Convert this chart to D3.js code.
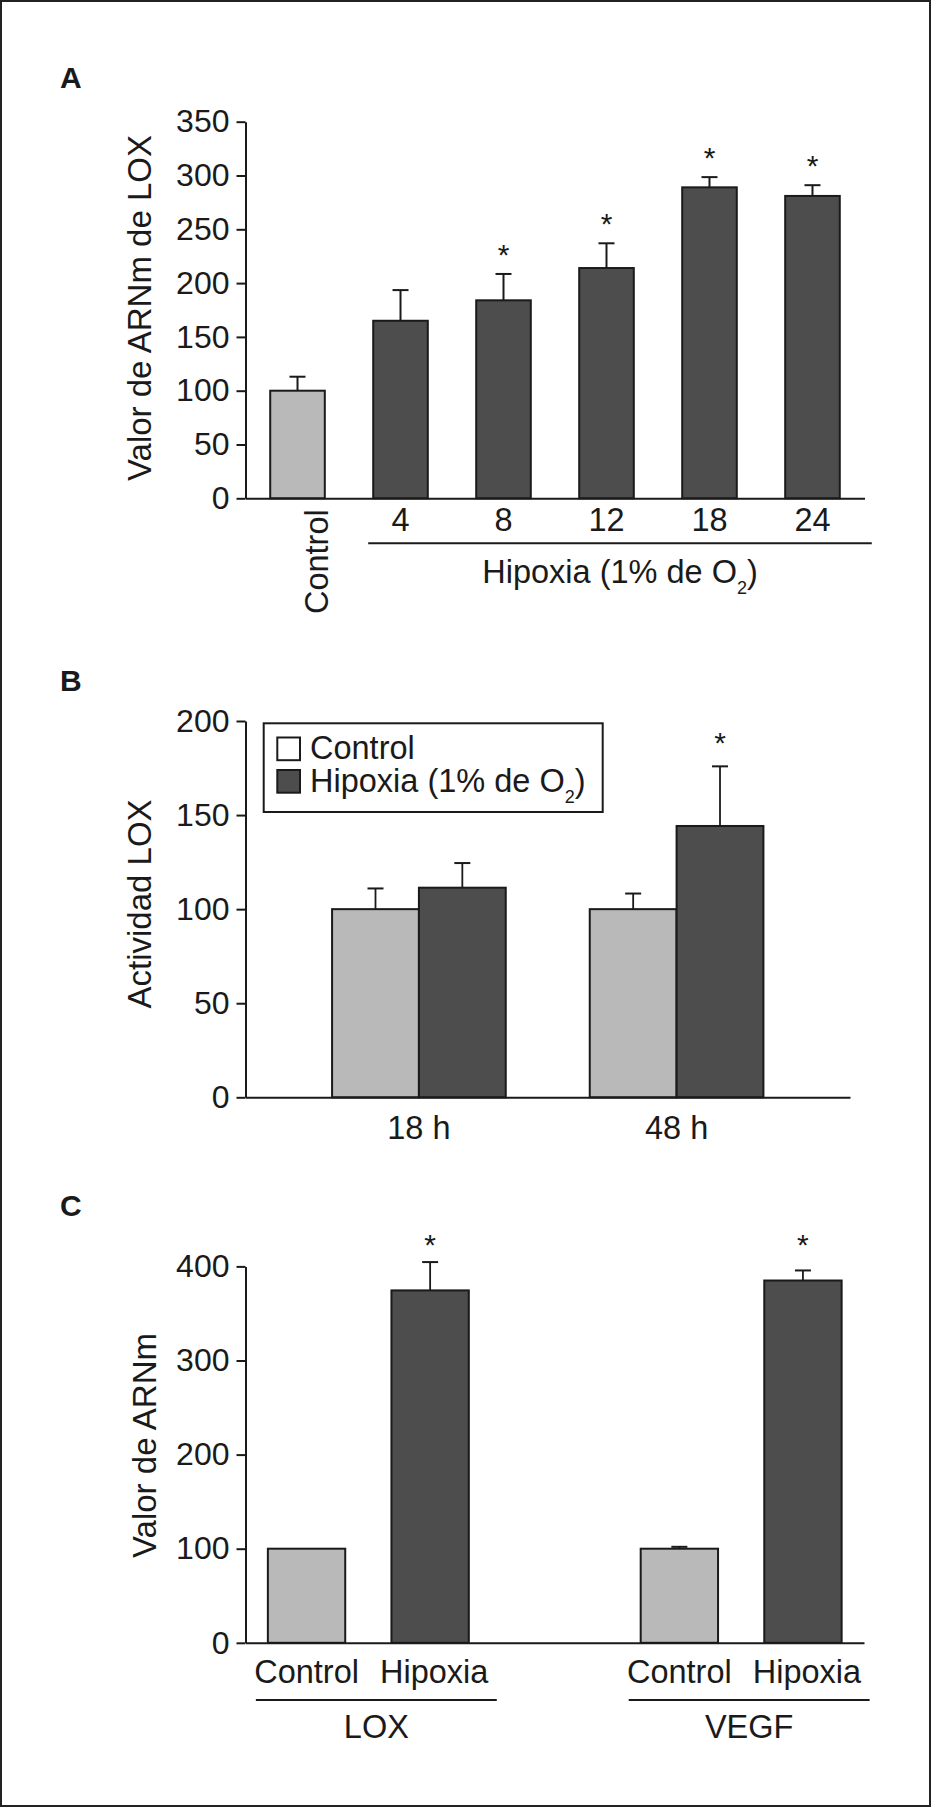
<!DOCTYPE html>
<html>
<head>
<meta charset="utf-8">
<script src="https://cdn.jsdelivr.net/npm/d3@7"></script>
<style>
body { margin: 0; background: #fff; }
svg text { font-family: "Liberation Sans", Arial, Helvetica, sans-serif; fill: #1a1a1a; }
</style>
</head>
<body>
<div id="figure"></div>
<script>
// Panel A: LOX mRNA after hours of hypoxia.
const catsA = ["Control", "4", "8", "12", "18", "24"];
const valuesA = [100, 165, 184, 214, 289, 281];
const errTopA = [113, 193.5, 208.5, 237, 298.5, 291];
const sigA = [false, false, true, true, true, true];
const ticksA = [0, 50, 100, 150, 200, 250, 300, 350];

// Panel B: LOX activity, control vs hypoxia.
const groupsB = ["18 h", "48 h"];
const seriesNames = ["Control", "Hipoxia"];
const controlB = [100, 100];
const controlErrB = [111, 108.3];
const hypoxiaB = [111.4, 144.2];
const hypoxiaErrB = [124.5, 175.9];
const sigB = [false, true];
const ticksB = [0, 50, 100, 150, 200];

// Panel C: LOX and VEGF mRNA.
const groupsC = ["LOX", "VEGF"];
const controlC = [100, 100];
const controlErrC = [100, 102];
const hypoxiaC = [374.5, 385];
const hypoxiaErrC = [404.6, 395.7];
const sigC = [true, true];
const ticksC = [0, 100, 200, 300, 400];

const width = 931,
      height = 1807,
      axisX = 245.5,
      fontSize = 32.5;

const light = "#b9b9b9",
      dark = "#4d4d4d",
      ink = "#1a1a1a";

const svg = d3.select("#figure").append("svg")
    .attr("width", width)
    .attr("height", height);

svg.append("rect")
    .attr("width", width)
    .attr("height", height)
    .attr("fill", "#fff");

// Thin frame round the whole figure.
svg.append("rect")
    .attr("x", 1)
    .attr("y", 1)
    .attr("width", width - 2)
    .attr("height", height - 2)
    .attr("fill", "none")
    .attr("stroke", "#222")
    .attr("stroke-width", 2);

function drawYAxis(g, y, ticks) {
    g.attr("transform", `translate(${axisX},0)`)
        .call(d3.axisLeft(y).tickValues(ticks).tickSize(9).tickPadding(7).tickSizeOuter(0))
        .call(g => g.select(".domain").attr("stroke", ink).attr("stroke-width", 2))
        .call(g => g.selectAll(".tick line").attr("stroke", ink).attr("stroke-width", 2))
        .call(g => g.selectAll(".tick text").attr("font-size", 32));
}

function drawXLine(g, x, y0, padding) {
    g.attr("transform", `translate(0,${y0})`)
        .call(d3.axisBottom(x).tickSize(0).tickSizeOuter(0).tickPadding(padding))
        .call(g => g.select(".domain").attr("stroke", ink).attr("stroke-width", 2))
        .call(g => g.selectAll(".tick text").attr("font-size", fontSize));
}

function drawBar(g, x, w, v, y, fill) {
    g.append("rect")
        .attr("x", x)
        .attr("y", y(v))
        .attr("width", w)
        .attr("height", y(0) - y(v))
        .attr("fill", fill)
        .attr("stroke", ink)
        .attr("stroke-width", 2);
}

function drawError(g, cx, v, top, y, sw) {
    if (top <= v) return;
    g.append("line")
        .attr("x1", cx).attr("x2", cx)
        .attr("y1", y(v)).attr("y2", y(top))
        .attr("stroke", ink).attr("stroke-width", sw);
    g.append("line")
        .attr("x1", cx - 8).attr("x2", cx + 8)
        .attr("y1", y(top)).attr("y2", y(top))
        .attr("stroke", ink).attr("stroke-width", 2);
}

function star(g, cx, baseline) {
    g.append("text")
        .attr("x", cx)
        .attr("y", baseline)
        .attr("text-anchor", "middle")
        .attr("font-size", 30)
        .text("*");
}

function panelLetter(letter, baseline) {
    svg.append("text")
        .attr("x", 60)
        .attr("y", baseline)
        .attr("font-size", 30)
        .attr("font-weight", "bold")
        .text(letter);
}

function yTitle(label, x, y) {
    svg.append("text")
        .attr("transform", `translate(${x},${y}) rotate(-90)`)
        .attr("text-anchor", "middle")
        .attr("font-size", 33)
        .text(label);
}

// "Hipoxia (1% de O2)" with a lowered 2.
function hypoxiaText(t) {
    t.append("tspan").text("Hipoxia (1% de O");
    t.append("tspan").attr("font-size", 18).attr("dy", 11).text("2");
    t.append("tspan").attr("dy", -11).text(")");
}

// ---------- Panel A ----------
const yA = d3.scaleLinear().domain([0, 350]).range([498.3, 121.7]);
const xA = d3.scaleBand().domain(catsA).range([axisX, 864.5])
    .paddingInner(0.47).paddingOuter(0.24);

panelLetter("A", 88.3);
yTitle("Valor de ARNm de LOX", 151, 308);

const gA = svg.append("g");
catsA.forEach((c, i) => {
    drawBar(gA, xA(c), xA.bandwidth(), valuesA[i], yA, i === 0 ? light : dark);
    const cx = xA(c) + xA.bandwidth() / 2;
    drawError(gA, cx, valuesA[i], errTopA[i], yA, 2);
    if (sigA[i]) star(gA, cx, yA(errTopA[i]) - 9);
});

svg.append("g").call(drawYAxis, yA, ticksA);
svg.append("g").call(drawXLine, xA, yA(0), 10)
    .call(g => g.selectAll(".tick text")
        .filter(d => d === "Control")
        .attr("y", 0)
        .attr("dy", 0)
        .attr("text-anchor", "end")
        .attr("transform", "translate(30,11) rotate(-90)"));

// Bracket under the hypoxia time points.
const bxA0 = xA("4") - 5,
      bxA1 = xA("24") + xA.bandwidth() + 32;
svg.append("line")
    .attr("x1", bxA0).attr("x2", bxA1)
    .attr("y1", 543.3).attr("y2", 543.3)
    .attr("stroke", ink).attr("stroke-width", 2);

svg.append("text")
    .attr("x", (bxA0 + bxA1) / 2)
    .attr("y", 583.3)
    .attr("text-anchor", "middle")
    .attr("font-size", fontSize)
    .call(hypoxiaText);

// ---------- Panel B ----------
const yB = d3.scaleLinear().domain([0, 200]).range([1097.3, 721]);
const xB = d3.scaleBand().domain(groupsB).range([axisX, 850])
    .paddingInner(0.326).paddingOuter(0.336);
const xBin = d3.scaleBand().domain(seriesNames).range([0, xB.bandwidth()]);

panelLetter("B", 691.4);
yTitle("Actividad LOX", 151, 904);

const gB = svg.append("g");
groupsB.forEach((grp, i) => {
    const x0 = xB(grp);
    const cC = x0 + xBin("Control") + xBin.bandwidth() / 2,
          cH = x0 + xBin("Hipoxia") + xBin.bandwidth() / 2;
    drawBar(gB, x0 + xBin("Control"), xBin.bandwidth(), controlB[i], yB, light);
    drawBar(gB, x0 + xBin("Hipoxia"), xBin.bandwidth(), hypoxiaB[i], yB, dark);
    drawError(gB, cC, controlB[i], controlErrB[i], yB, 1.8);
    drawError(gB, cH, hypoxiaB[i], hypoxiaErrB[i], yB, 1.8);
    if (sigB[i]) star(gB, cH, yB(hypoxiaErrB[i]) - 13.5);
});

svg.append("g").call(drawYAxis, yB, ticksB);
svg.append("g").call(drawXLine, xB, yB(0), 18.2);

// Legend: box, two swatches, and one text block holding both rows.
const legend = svg.append("g").attr("transform", "translate(263.7,723.3)");
legend.append("rect")
    .attr("width", 339)
    .attr("height", 88.7)
    .attr("fill", "#fff")
    .attr("stroke", ink)
    .attr("stroke-width", 2);
[["#fff", 14.2], [dark, 46.7]].forEach(([fill, top]) => {
    legend.append("rect")
        .attr("x", 13.6)
        .attr("y", top)
        .attr("width", 22.7)
        .attr("height", 22.7)
        .attr("fill", fill)
        .attr("stroke", ink)
        .attr("stroke-width", 2);
});
const legendText = legend.append("text")
    .attr("x", 46.3)
    .attr("y", 36.2)
    .attr("font-size", fontSize);
legendText.append("tspan").text(seriesNames[0]);
legendText.append("tspan").attr("x", 46.3).attr("dy", 32.2).text("Hipoxia (1% de O");
legendText.append("tspan").attr("font-size", 18).attr("dy", 11).text("2");
legendText.append("tspan").attr("dy", -11).text(")");

// ---------- Panel C ----------
const yC = d3.scaleLinear().domain([0, 400]).range([1642.8, 1266.4]);
const xC = d3.scaleBand().domain(groupsC).range([axisX, 864])
    .paddingInner(0.461).paddingOuter(0.06);
const xCin = d3.scaleBand().domain(seriesNames).range([0, xC.bandwidth()])
    .paddingInner(0.374);

panelLetter("C", 1215.5);
yTitle("Valor de ARNm", 156, 1445.5);

const gC = svg.append("g");
const starBaseC = yC(d3.max(hypoxiaErrC)) - 7;
groupsC.forEach((grp, i) => {
    const x0 = xC(grp);
    const cC = x0 + xCin("Control") + xCin.bandwidth() / 2,
          cH = x0 + xCin("Hipoxia") + xCin.bandwidth() / 2;
    drawBar(gC, x0 + xCin("Control"), xCin.bandwidth(), controlC[i], yC, light);
    drawBar(gC, x0 + xCin("Hipoxia"), xCin.bandwidth(), hypoxiaC[i], yC, dark);
    drawError(gC, cC, controlC[i], controlErrC[i], yC, 2);
    drawError(gC, cH, hypoxiaC[i], hypoxiaErrC[i], yC, 1.8);
    if (sigC[i]) star(gC, cH, starBaseC);

    [["Control", cC], ["Hipoxia", cH + 4]].forEach(([name, cx]) => {
        gC.append("text")
            .attr("x", cx)
            .attr("y", 1683)
            .attr("text-anchor", "middle")
            .attr("font-size", fontSize)
            .text(name);
    });

    const b0 = x0 - 12,
          b1 = x0 + xC.bandwidth() + 28;
    gC.append("line")
        .attr("x1", b0).attr("x2", b1)
        .attr("y1", 1700).attr("y2", 1700)
        .attr("stroke", ink).attr("stroke-width", 2);
    gC.append("text")
        .attr("x", (b0 + b1) / 2)
        .attr("y", 1738)
        .attr("text-anchor", "middle")
        .attr("font-size", fontSize)
        .text(grp);
});

svg.append("g").call(drawYAxis, yC, ticksC);
svg.append("g").call(drawXLine, xC, yC(0), 0)
    .call(g => g.selectAll(".tick text").remove());
</script>
</body>
</html>
